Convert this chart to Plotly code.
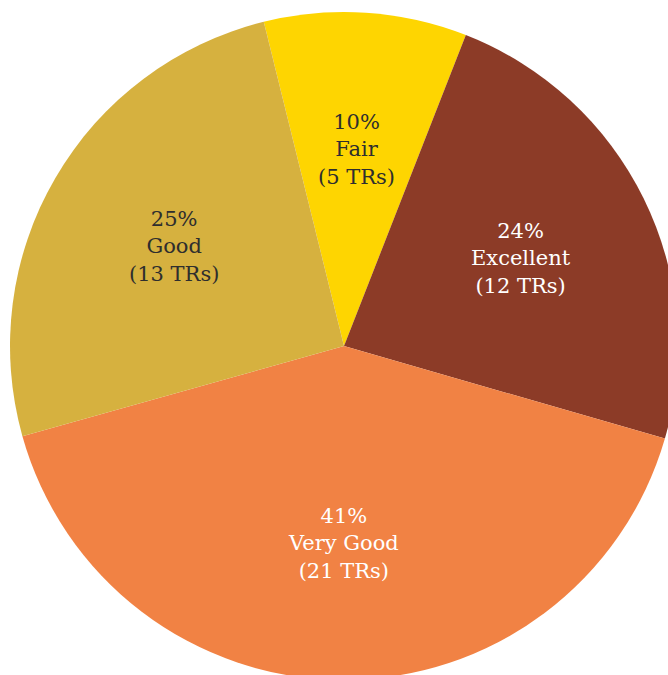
import math
import plotly.graph_objects as go

categories = ["Fair", "Excellent", "Very Good", "Good"]
counts = [5, 12, 21, 13]
pct_labels = ["10%", "24%", "41%", "25%"]
colors = ["#FED501", "#8C3B27", "#F18244", "#D6B13F"]
text_colors = ["#2E2E2E", "#FFFFFF", "#FFFFFF", "#2E2E2E"]

W, H = 688, 692
CX, CY, R = 344, 346, 334          # pie centre / radius in px (from top-left)
START = -13.9                       # start angle, degrees clockwise from 12 o'clock
LABEL_R = 0.59

texts = [f"{p}<br>{c}<br>({n} TRs)" for p, c, n in zip(pct_labels, categories, counts)]

fig = go.Figure(go.Pie(
    labels=categories,
    values=counts,
    textinfo="none",
    sort=False,
    direction="clockwise",
    rotation=START,
    marker=dict(colors=colors, line=dict(width=0)),
    hoverinfo="skip",
    showlegend=False,
    domain=dict(x=[(CX - R) / W, (CX + R) / W],
                y=[(H - CY - R) / H, (H - CY + R) / H]),
))

total = sum(counts)
acc = 0.0
for t, n, tc in zip(texts, counts, text_colors):
    mid = START + 360.0 * (acc + n / 2) / total
    acc += n
    a = math.radians(mid)
    px = CX + LABEL_R * R * math.sin(a)
    py = CY - LABEL_R * R * math.cos(a)
    fig.add_annotation(
        x=px / W, y=1 - py / H, xref="paper", yref="paper",
        text=t, showarrow=False, align="center",
        xanchor="center", yanchor="middle",
        font=dict(family="DejaVu Serif, Liberation Serif, serif", size=21, color=tc),
    )

fig.update_layout(
    width=W, height=H,
    margin=dict(l=0, r=0, t=0, b=0),
    paper_bgcolor="white",
    plot_bgcolor="white",
    showlegend=False,
)

fig.write_html(
    "out.html",
    config={"displayModeBar": False},
    post_script="document.body.style.margin='0';document.body.style.overflow='hidden';",
)
